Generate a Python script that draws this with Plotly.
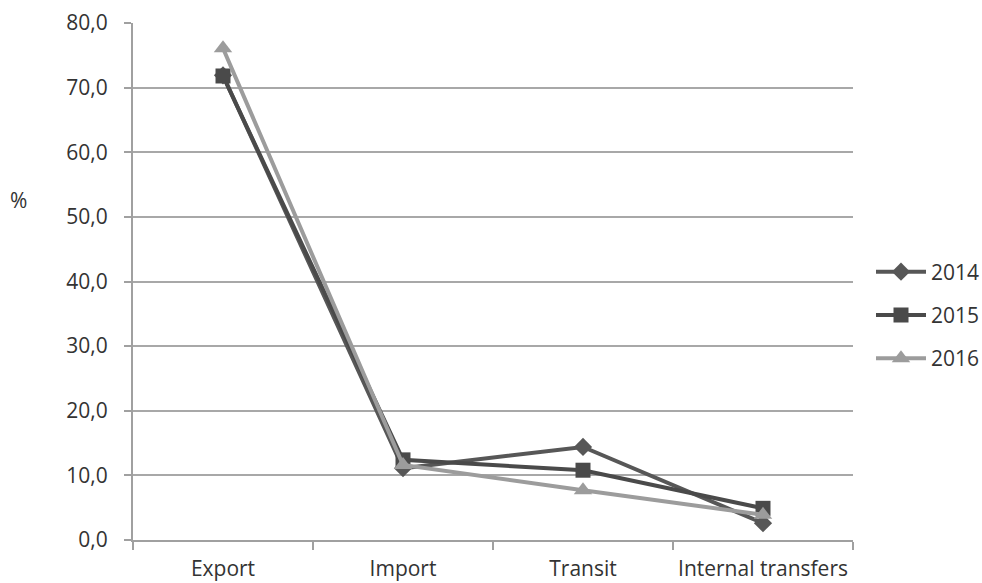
import plotly.graph_objects as go

categories = ["Export", "Import", "Transit", "Internal transfers"]
years = ["2014", "2015", "2016"]
v2014 = [71.9, 11.1, 14.4, 2.6]
v2015 = [71.8, 12.4, 10.8, 4.9]
v2016 = [76.1, 11.6, 7.7, 3.9]
y_ticks = [0, 10, 20, 30, 40, 50, 60, 70, 80]

series = [
    (years[0], v2014, "#575757", "diamond", 14),
    (years[1], v2015, "#4a4a4a", "square", 15),
    (years[2], v2016, "#9c9c9c", "triangle-up", 16),
]

fig = go.Figure()
for name, vals, color, sym, size in series:
    fig.add_trace(go.Scatter(
        x=categories, y=vals, name=name, mode="lines+markers",
        legendgroup=name,
        line=dict(color=color, width=4),
        marker=dict(symbol=sym, size=size, color=color),
    ))

font = "'Open Sans', sans-serif"
FS = 21
fig.update_layout(
    width=982, height=583,
    margin=dict(l=133, r=129, t=23, b=43, autoexpand=False),
    paper_bgcolor="white", plot_bgcolor="white",
    font=dict(family=font, size=FS, color="#333333"),
    separators=",.",
    showlegend=True,
    legend=dict(x=1.025, y=(540 - 315) / 517, xanchor="left", yanchor="middle",
                xref="paper", yref="paper",
                font=dict(size=FS, color="#333333"),
                itemwidth=50, tracegroupgap=13,
                bgcolor="rgba(0,0,0,0)"),
    xaxis=dict(
        type="category", range=[-0.5, 3.5], automargin=False, tickangle=0,
        showgrid=False, showline=True, linecolor="#a0a0a0", linewidth=2,
        tickson="boundaries", ticks="outside", ticklen=8, tickcolor="#a0a0a0",
        tickwidth=2, tickfont=dict(size=FS, color="#333333"),
        ticklabelstandoff=9,
        zeroline=False,
    ),
    yaxis=dict(
        range=[0, 80], tickvals=y_ticks, tickformat=".1f", automargin=False,
        showgrid=True, gridcolor="#a8a8a8", gridwidth=2,
        showline=True, linecolor="#a0a0a0", linewidth=2,
        ticks="outside", ticklen=7, tickcolor="#a0a0a0", tickwidth=2,
        ticklabelstandoff=12,
        tickfont=dict(size=FS, color="#333333"),
        zeroline=False,
    ),
)
fig.add_annotation(text="%", xref="paper", yref="paper",
                   x=-(133 - 18) / 720, y=(540 - 200) / 517,
                   xanchor="center", yanchor="middle", showarrow=False,
                   font=dict(size=FS, color="#333333"))

fig.write_html("out.html",
               config={"displayModeBar": False},
               post_script="document.body.style.margin='0';document.body.style.padding='0';")
